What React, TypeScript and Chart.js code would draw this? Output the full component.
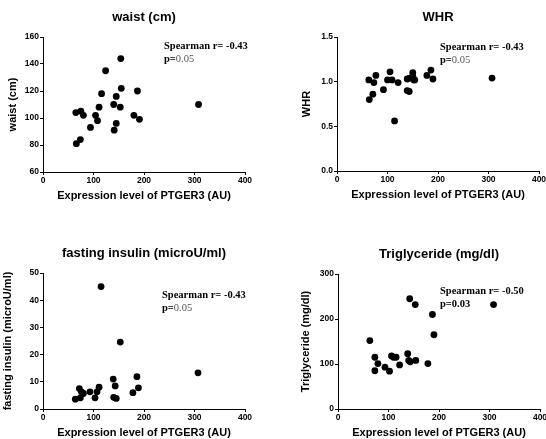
import React, { useEffect, useRef } from "react";
import { Chart, registerables } from "chart.js";

Chart.register(...registerables);

// ---------- DATA ----------
const X_TICK_MAX = 400;
const X_LABEL = "Expression level of PTGER3 (AU)";

const WAIST_X = [65, 75, 80, 66, 74, 94, 104, 108, 111, 116, 124, 140, 141, 145, 145, 153, 154, 155, 180, 187, 191, 308];
const WAIST_Y = [104, 105, 102, 81, 84, 93, 102, 98, 108, 118, 135, 110, 91, 116, 96, 108, 144, 122, 102, 120, 99, 110];

const WHR_X = [63, 64, 71, 73, 77, 92, 100, 105, 109, 114, 121, 139, 143, 139, 144, 150, 150, 152, 154, 178, 186, 190, 307];
const WHR_Y = [1.02, 0.8, 0.86, 0.99, 1.07, 0.91, 1.02, 1.11, 1.02, 0.56, 0.99, 0.9, 0.89, 1.03, 1.04, 1.1, 1.06, 1.02, 1.02, 1.07, 1.13, 1.03, 1.04];

const INSULIN_X = [64, 72, 74, 76, 80, 93, 103, 107, 111, 115, 139, 140, 143, 145, 153, 178, 186, 189, 307];
const INSULIN_Y = [3.6, 7.5, 4.1, 6.3, 5.7, 6.3, 4.1, 6.3, 8, 45, 11, 4.3, 8.5, 3.9, 24.6, 6, 11.9, 7.8, 13.3];

const TG_X = [63, 73, 73, 79, 93, 102, 106, 110, 115, 122, 138, 140, 143, 142, 153, 154, 178, 187, 190, 308];
const TG_Y = [152, 115, 85, 101, 93, 84, 118, 115, 115, 98, 123, 108, 105, 245, 232, 108, 101, 210, 165, 232];

const TITLES = ["waist (cm)", "WHR", "fasting insulin (microU/ml)", "Triglyceride (mg/dl)"];
const Y_LABELS = ["waist (cm)", "WHR", "fasting insulin (microU/ml)", "Triglyceride (mg/dl)"];
const Y_MIN = [60, 0, 0, 0];
const Y_MAX = [160, 1.5, 50, 300];
const Y_STEP = [20, 0.5, 10, 100];
const SPEARMAN_R = ["-0.43", "-0.43", "-0.43", "-0.50"];
const P_VALUES = ["0.05", "0.05", "0.05", "0.03"];

const SERIES_X = [WAIST_X, WHR_X, INSULIN_X, TG_X];
const SERIES_Y = [WAIST_Y, WHR_Y, INSULIN_Y, TG_Y];

// ---------- LAYOUT / STYLE ----------
type Layout = {
  left: number; top: number; w: number; h: number;
  areaL: number; areaT: number; areaR: number; areaB: number;
  yTitleOff: number; annDx: number; annDy: number; pBold: boolean;
  decimals: number;
};

const LAYOUTS: Layout[] = [
  { left: 0, top: 0, w: 273, h: 220, areaL: 43, areaT: 37, areaR: 245, areaB: 172, yTitleOff: 30, annDx: 121, annDy: 9, pBold: false, decimals: 0 },
  { left: 273, top: 0, w: 290, h: 220, areaL: 64, areaT: 37, areaR: 266, areaB: 171, yTitleOff: 30, annDx: 103, annDy: 10, pBold: false, decimals: 1 },
  { left: 0, top: 220, w: 273, h: 219, areaL: 43, areaT: 53, areaR: 245, areaB: 189, yTitleOff: 35, annDx: 119, annDy: 22, pBold: false, decimals: 0 },
  { left: 273, top: 220, w: 290, h: 219, areaL: 65, areaT: 54, areaR: 267, areaB: 189, yTitleOff: 32, annDx: 102, annDy: 17, pBold: true, decimals: 0 },
];

const SANS = '"Liberation Sans", Arial, sans-serif';
const SERIF = '"Liberation Serif", "Times New Roman", serif';

function Panel({ idx }: { idx: number }) {
  const ref = useRef<HTMLCanvasElement | null>(null);
  const L = LAYOUTS[idx];

  useEffect(() => {
    if (!ref.current) return;
    const pts = SERIES_X[idx].map((x, i) => ({ x, y: SERIES_Y[idx][i] }));

    const textPlugin = {
      id: "panelText" + idx,
      afterDraw(chart: any) {
        const ctx = chart.ctx;
        const a = chart.chartArea;
        const cx = (a.left + a.right) / 2;
        const cy = (a.top + a.bottom) / 2;
        ctx.save();
        ctx.fillStyle = "#000";
        ctx.textAlign = "center";
        ctx.textBaseline = "middle";
        // title
        ctx.font = `bold 13px ${SANS}`;
        ctx.fillText(TITLES[idx], cx, a.top - 20);
        // x title
        ctx.font = `bold 11px ${SANS}`;
        ctx.fillText(X_LABEL, cx, a.bottom + 23.5);
        // y title
        ctx.save();
        ctx.translate(a.left - L.yTitleOff, cy);
        ctx.rotate(-Math.PI / 2);
        ctx.fillText(Y_LABELS[idx], 0, 0);
        ctx.restore();
        // annotation
        ctx.textAlign = "left";
        const ax = a.left + L.annDx;
        const ay = a.top + L.annDy;
        ctx.font = `bold 10.5px ${SERIF}`;
        ctx.fillText("Spearman r= " + SPEARMAN_R[idx], ax, ay);
        ctx.fillText("p=", ax, ay + 13.5);
        const pw = ctx.measureText("p=").width;
        if (!L.pBold) {
          ctx.font = `10.5px ${SERIF}`;
          ctx.fillStyle = "#555";
        }
        ctx.fillText(P_VALUES[idx], ax + pw, ay + 13.5);
        ctx.restore();
      },
    };

    const tickFont = { family: SANS, size: 8.5, weight: "bold" as const };
    const chart = new Chart(ref.current, {
      type: "scatter",
      data: {
        datasets: [
          {
            data: pts,
            pointRadius: 3.4,
            pointHoverRadius: 3.4,
            pointBackgroundColor: "#000",
            pointBorderWidth: 0,
            borderColor: "#000",
          },
        ],
      },
      options: {
        responsive: false,
        animation: false,
        layout: {
          padding: { left: 0, top: L.areaT, right: L.w - L.areaR, bottom: 0 },
        },
        plugins: { legend: { display: false }, tooltip: { enabled: false }, title: { display: false } },
        scales: {
          x: {
            type: "linear",
            min: 0,
            max: X_TICK_MAX,
            ticks: { stepSize: 100, color: "#000", font: tickFont, padding: 1, maxRotation: 0 },
            grid: { display: true, drawOnChartArea: false, drawTicks: true, tickLength: 3, color: "#000", lineWidth: 1 },
            border: { display: true, color: "#000", width: 1 },
            afterFit: (s: any) => { s.height = L.h - L.areaB; },
          },
          y: {
            type: "linear",
            min: Y_MIN[idx],
            max: Y_MAX[idx],
            ticks: {
              stepSize: Y_STEP[idx],
              color: "#000",
              font: tickFont,
              padding: 1,
              callback: (v: any) => Number(v).toFixed(L.decimals),
            },
            grid: { display: true, drawOnChartArea: false, drawTicks: true, tickLength: 3, color: "#000", lineWidth: 1 },
            border: { display: true, color: "#000", width: 1 },
            afterFit: (s: any) => { s.width = L.areaL; },
          },
        },
      },
      plugins: [textPlugin],
    });
    return () => chart.destroy();
  }, [idx]);

  return (
    <canvas
      ref={ref}
      width={L.w}
      height={L.h}
      style={{ position: "absolute", left: L.left, top: L.top, width: L.w, height: L.h }}
    />
  );
}

export default function App() {
  return (
    <div
      style={{
        position: "fixed",
        left: 0,
        top: 0,
        width: 546,
        height: 439,
        overflow: "hidden",
        background: "#fff",
      }}
    >
      {[0, 1, 2, 3].map((i) => (
        <Panel key={i} idx={i} />
      ))}
    </div>
  );
}
